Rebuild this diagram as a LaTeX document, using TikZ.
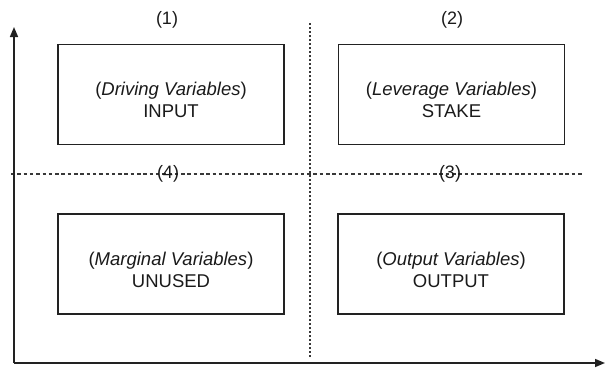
\documentclass[tikz,border=0pt]{standalone}
\usepackage{fontspec}
\setmainfont{Liberation Sans}
\usetikzlibrary{arrows.meta}
\definecolor{ink}{HTML}{222222}
\definecolor{txt}{HTML}{1A1A1A}
\begin{document}
\begin{tikzpicture}[x=1pt,y=-1pt,
  quad/.style={draw=ink,line width=1.5pt,minimum width=226pt,minimum height=100pt,inner sep=0pt},
  inner/.style={align=center,text=txt,inner sep=0pt,font=\fontsize{18.5}{22}\selectfont},
  num/.style={text=txt,font=\fontsize{18}{20}\selectfont,inner sep=0pt},
  axis/.style={draw=ink,line width=1.5pt,-{Triangle[length=10pt,width=8pt]}},
  hdash/.style={draw=ink!90,line width=1.3pt,dash pattern=on 3.5pt off 2.8pt},
  vdot/.style={draw=ink!90,line width=1.3pt,dash pattern=on 1.6pt off 2.4pt}]
\useasboundingbox (0,0) rectangle (605,370);
% guide lines
\coordinate (hl) at (11,174);
\coordinate (hr) at (583,174);
\coordinate (vt) at (310,23);
\coordinate (vb) at (310,358);
\draw[hdash] (hl) -- (hr);
\draw[vdot] (vt) -- (vb);
% axes
\coordinate (o) at (14,363);
\coordinate (ytop) at (14,27);
\coordinate (xend) at (605,363);
\draw[axis] (o) -- (ytop);
\draw[axis] (o) -- (xend);
% boxes
\node[quad] (b1) at (171,94.5) {};
\node[quad] (b2) at (451.5,94.5) {};
\node[quad] (b3) at (451,264) {};
\node[quad] (b4) at (171,264) {};
\node[inner] (t1) at ([yshift=-5pt]b1.center) {(\textit{Driving Variables})\\INPUT};
\node[inner] (t2) at ([yshift=-5pt]b2.center) {(\textit{Leverage Variables})\\STAKE};
\node[inner] (t3) at ([yshift=-6pt]b3.center) {(\textit{Output Variables})\\OUTPUT};
\node[inner] (t4) at ([yshift=-6pt]b4.center) {(\textit{Marginal Variables})\\UNUSED};
% numbers
\node[num] (n1) at (167,20) {(1)};
\node[num] (n2) at (452,20) {(2)};
\node[num] (n3) at (450,174) {(3)};
\node[num] (n4) at (168,174) {(4)};
\end{tikzpicture}
\end{document}
